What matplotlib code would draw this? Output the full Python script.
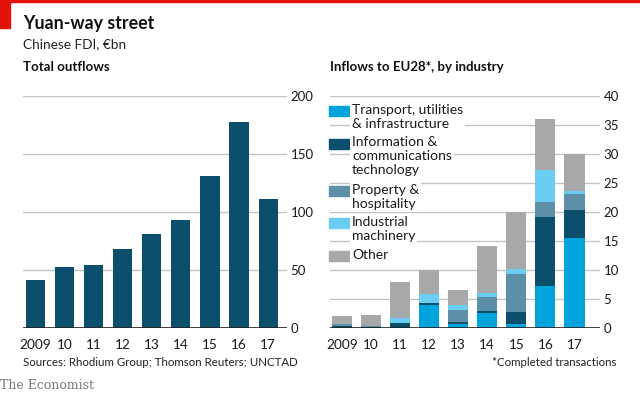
import matplotlib.pyplot as plt
from matplotlib.patches import Rectangle
import numpy as np

plt.rcParams['font.family'] = ['Lato', 'DejaVu Sans']

years = ['2009', '10', '11', '12', '13', '14', '15', '16', '17']
outflows = [41, 52, 54, 68, 81, 93, 131, 177, 111]

transport = [0.0, 0.0, 0.0, 3.9, 0.7, 2.5, 0.6, 7.25, 15.5]
ict = [0.3, 0.15, 0.85, 0.3, 0.3, 0.45, 2.1, 11.9, 4.75]
property_ = [0.3, 0.15, 0.0, 0.0, 2.05, 2.3, 6.6, 2.5, 2.8]
machinery = [0.0, 0.0, 0.75, 1.55, 0.9, 0.7, 0.75, 5.6, 0.45]
other = [1.35, 1.9, 6.3, 4.25, 2.6, 8.15, 9.9, 8.8, 6.45]

series = [transport, ict, property_, machinery, other]
labels = ['Transport, utilities\n& infrastructure',
          'Information &\ncommunications\ntechnology',
          'Property &\nhospitality',
          'Industrial\nmachinery',
          'Other']
colors = ['#00a3db', '#0b4f6c', '#5e8fa8', '#6ccdf3', '#a7a8aa']
dark = '#0b4f6c'
grid = '#c4c4c4'

W, H = 640, 394
fig = plt.figure(figsize=(6.4, 3.94), dpi=100)


def fx(x):
    return x / W


def fy(y):
    return 1 - y / H


def style(ax, ymax, step):
    ax.set_ylim(0, ymax)
    ax.set_yticks(np.arange(0, ymax + 1, step))
    ax.yaxis.tick_right()
    ax.tick_params(axis='y', length=0, pad=2.5, labelsize=9.5, labelcolor='#1a1a1a')
    ax.tick_params(axis='x', length=0, pad=8, labelsize=9.8, labelcolor='#1a1a1a')
    for s in ax.spines.values():
        s.set_visible(False)
    ax.grid(axis='y', color=grid, linewidth=1.0, zorder=0)
    ax.set_axisbelow(True)
    ax.axhline(0, color='#222222', linewidth=1.2, zorder=5)


x = np.arange(len(years))

# left panel
ax1 = fig.add_axes([fx(23), fy(327.7), fx(264), 232 / H])
ax1.bar(x, outflows, width=0.66, color=dark, zorder=2)
ax1.set_xlim(-0.43, 8.65)
ax1.set_xticks(x, years)
style(ax1, 200, 50)

# right panel
ax2 = fig.add_axes([fx(330), fy(327.7), fx(270), 232 / H])
bottom = np.zeros(len(years))
for vals, c in zip(series, colors):
    ax2.bar(x, vals, bottom=bottom, width=0.69, color=c, zorder=2)
    bottom += np.array(vals)
ax2.set_xlim(-0.413, 8.878)
ax2.set_xticks(x, years)
style(ax2, 40, 5)

# legend drawn by hand
leg_y = [106, 138.5, 186, 218, 251]
for yy, lab, c in zip(leg_y, labels, colors):
    fig.add_artist(Rectangle((fx(329), fy(yy + 10)), fx(20), 10 / H,
                             transform=fig.transFigure, color=c, zorder=4))
    fig.text(fx(352), fy(yy - 2), lab, ha='left', va='top', fontsize=10,
             linespacing=1.15, color='#1a1a1a', zorder=4,
             bbox=dict(facecolor='white', edgecolor='none', pad=1.5))

# titles and notes
fig.add_artist(Rectangle((0, fy(28)), fx(10), 28 / H, transform=fig.transFigure,
                         color='#e3120b', zorder=5))
fig.add_artist(Rectangle((0, fy(1.5)), 1, 1.5 / H, transform=fig.transFigure,
                         color='#e3120b', zorder=5))
fig.text(fx(23), fy(29), 'Yuan-way street', fontsize=12.8, fontweight='bold',
         va='baseline', color='#111111')
fig.text(fx(23), fy(48), 'Chinese FDI, €bn', fontsize=9.8, va='baseline', color='#222222')
fig.text(fx(23), fy(71), 'Total outflows', fontsize=9.5, fontweight='bold',
         va='baseline', color='#111111')
fig.text(fx(330), fy(71), 'Inflows to EU28*, by industry', fontsize=9.5,
         fontweight='bold', va='baseline', color='#111111')
fig.text(fx(23), fy(366), 'Sources: Rhodium Group; Thomson Reuters; UNCTAD',
         fontsize=8.3, va='baseline', color='#222222')
fig.text(fx(617), fy(366), '*Completed transactions', fontsize=8.3, ha='right',
         va='baseline', color='#222222')
fig.text(0, fy(389), 'The Economist', fontsize=9, family='DejaVu Serif',
         va='baseline', color='#777777')

fig.savefig('out.png', dpi=100)
